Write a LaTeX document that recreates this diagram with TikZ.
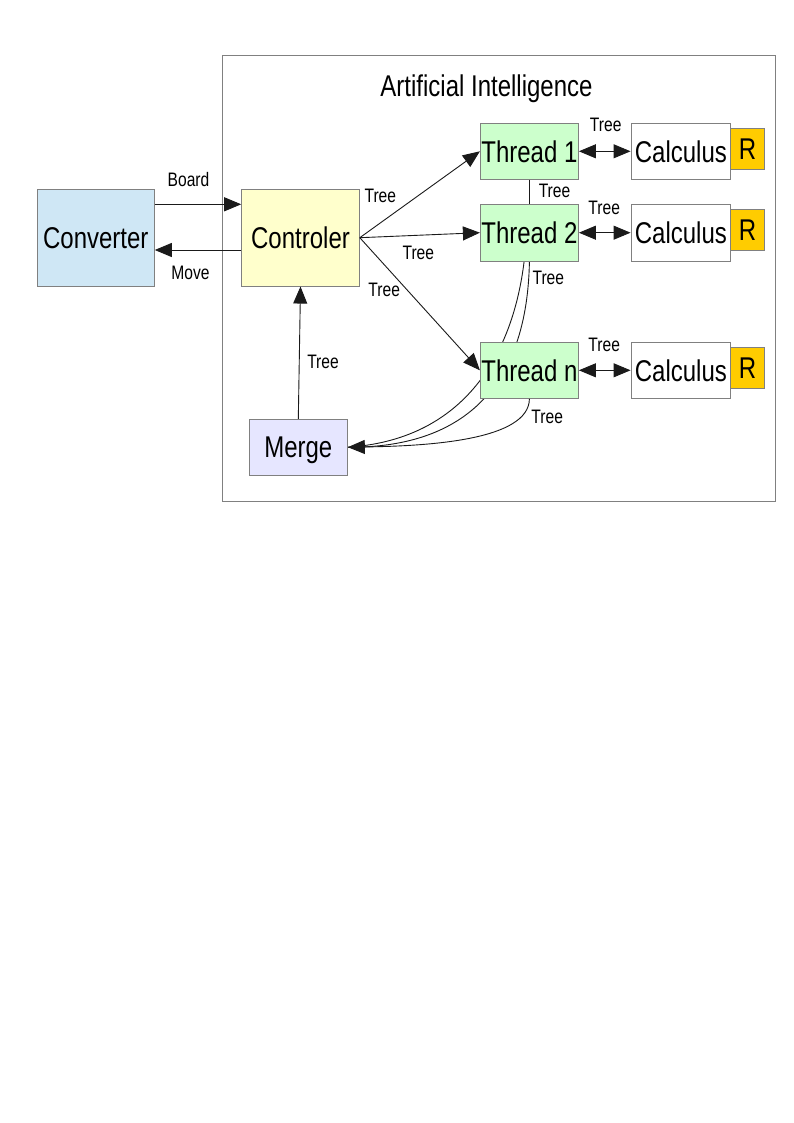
\documentclass[tikz,border=0pt]{standalone}
\usepackage{fontspec}
\setmainfont{Liberation Sans}[FakeStretch=0.8]
\usetikzlibrary{arrows.meta}
\pgfdeclarelayer{back}
\pgfdeclarelayer{bg}
\pgfsetlayers{back,bg,main}
\definecolor{bordergray}{HTML}{808080}
\definecolor{convblue}{HTML}{CFE7F5}
\definecolor{ctrlyellow}{HTML}{FFFFCC}
\definecolor{mergelav}{HTML}{E6E6FF}
\definecolor{threadgreen}{HTML}{CCFFCC}
\definecolor{rorange}{HTML}{FFCC00}
\definecolor{linegray}{HTML}{1A1A1A}
\tikzset{
  box/.style={draw=bordergray, line width=1pt, inner sep=0pt, align=center,
    font=\fontsize{30}{36}\selectfont, text height=21.5pt, text depth=0pt},
  lbl/.style={inner sep=0pt, font=\fontsize{19.5}{23}\selectfont, text height=14pt, text depth=0pt},
  conn/.style={draw=linegray, line width=0.9pt},
  tip/.style={-{Triangle[length=17pt,width=14pt]}},
  dtip/.style={{Triangle[length=17pt,width=14pt]}-{Triangle[length=17pt,width=14pt]}}
}
\begin{document}
\begin{tikzpicture}[x=1pt,y=-1pt]
\useasboundingbox (0,0) rectangle (794,1123);
\begin{pgfonlayer}{back}
\fill[white] (0,0) rectangle (794,1123);
\end{pgfonlayer}
% outer box
\node[draw=bordergray, line width=1pt, minimum width=553pt, minimum height=445pt, inner sep=0pt] (ai) at (498.5,278.5) {};
\node[inner sep=0pt, font=\fontsize{30}{36}\selectfont, text height=21.5pt, text depth=0pt] (title) at (486.5,86) {Artificial Intelligence};
% boxes
\node[box, fill=convblue, minimum width=117pt, minimum height=96.7pt] (conv) at (95.8,237.7) {Converter};
\node[box, fill=ctrlyellow, minimum width=117.6pt, minimum height=96.7pt] (ctrl) at (300.5,237.7) {Controler};
\node[box, fill=mergelav, minimum width=98pt, minimum height=55.7pt] (merge) at (298.3,447.2) {Merge};
\node[box, fill=threadgreen, minimum width=98pt, minimum height=56pt] (t1) at (529.4,151.3) {Thread 1};
\node[box, fill=threadgreen, minimum width=98pt, minimum height=56.7pt] (t2) at (529.4,232.7) {Thread 2};
\node[box, fill=threadgreen, minimum width=98pt, minimum height=56pt] (tn) at (529.4,370.3) {Thread n};
\node[box, fill=white, minimum width=99.7pt, minimum height=56pt] (c1) at (680.9,151.3) {Calculus};
\node[box, fill=white, minimum width=99.7pt, minimum height=56.7pt] (c2) at (680.9,232.7) {Calculus};
\node[box, fill=white, minimum width=99.7pt, minimum height=56pt] (cn) at (680.9,370.3) {Calculus};
\node[box, fill=rorange, minimum width=33.6pt, minimum height=40.6pt] (r1) at (747.5,149) {R};
\node[box, fill=rorange, minimum width=33.6pt, minimum height=40.6pt] (r2) at (747.5,229.7) {R};
\node[box, fill=rorange, minimum width=33.6pt, minimum height=40.6pt] (rn) at (747.5,367.8) {R};
% connectors
\draw[conn, tip] ([yshift=33.4pt]conv.east) -- ([yshift=33.4pt]ctrl.west);
\draw[conn, tip] ([yshift=-12.3pt]ctrl.west) -- ([yshift=-12.3pt]conv.east);
\draw[conn, tip] (ctrl.east) -- (t1.west);
\draw[conn, tip] (ctrl.east) -- (t2.west);
\draw[conn, tip] (ctrl.east) -- (tn.west);
\draw[conn, tip] (merge.north) -- (ctrl.south);
\draw[conn] (t1.south) -- (t2.north);
\draw[conn, dtip] (t1.east) -- (c1.west);
\draw[conn, dtip] (t2.east) -- (c2.west);
\draw[conn, dtip] (tn.east) -- (cn.west);
\begin{pgfonlayer}{bg}
\draw[conn] ([xshift=-5.3pt]t2.south) .. controls (512,360) and (460,440) .. (merge.east);
\draw[conn] (t2.south) .. controls (527,400) and (450,448) .. (merge.east);
\end{pgfonlayer}
\draw[conn, tip] (tn.south) .. controls (529,440) and (430,446) .. (merge.east);
% labels
\node[lbl] (lboard) at (188.5,180) {Board};
\node[lbl] (lmove) at (190.5,272.7) {Move};
\node[lbl] (lt1) at (380.3,196) {Tree};
\node[lbl] (lt2) at (418.3,252) {Tree};
\node[lbl] (lt3) at (384.2,289) {Tree};
\node[lbl] (lt4) at (323,361) {Tree};
\node[lbl] (lt5) at (605.7,125) {Tree};
\node[lbl] (lt6) at (554.5,190.7) {Tree};
\node[lbl] (lt7) at (604.2,207.5) {Tree};
\node[lbl] (lt8) at (548.3,277.5) {Tree};
\node[lbl] (lt9) at (604.2,344.5) {Tree};
\node[lbl] (lt10) at (547.2,416) {Tree};
\end{tikzpicture}
\end{document}
